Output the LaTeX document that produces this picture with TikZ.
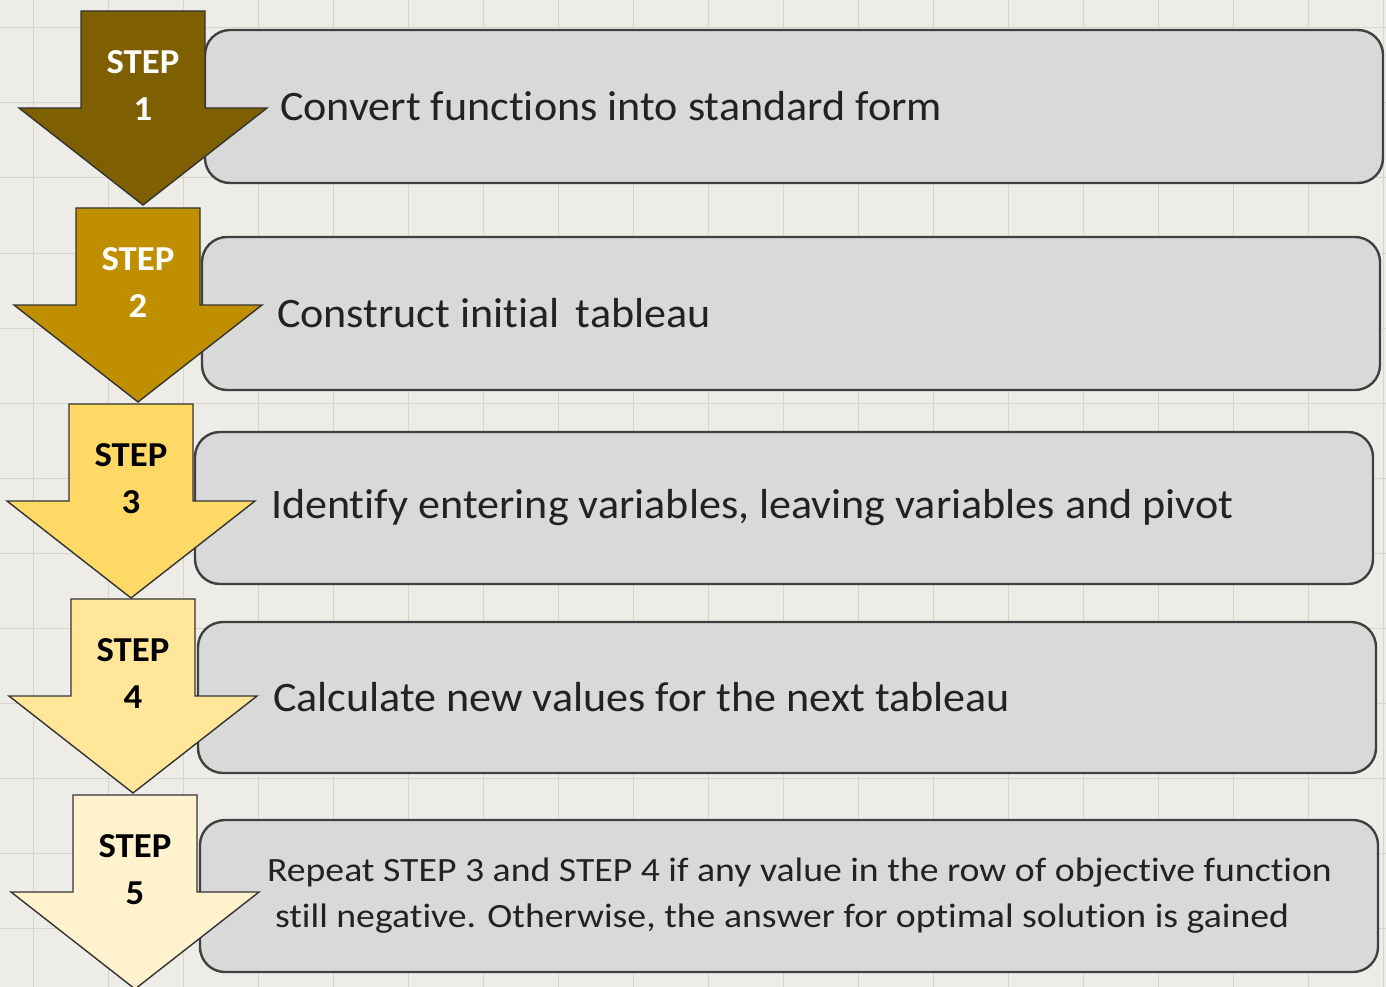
\documentclass[tikz,border=0pt]{standalone}
\usepackage{fontspec}
\setmainfont{Carlito}[Ligatures=NoCommon, FakeStretch=1.05]
\newfontfamily\widefont{Carlito}[Ligatures=NoCommon, FakeStretch=1.11]
\usepackage{tikz}
\usetikzlibrary{positioning}

\definecolor{paper}{HTML}{EDECE7}
\definecolor{paperline}{HTML}{D6D5CE}
\definecolor{goldA}{HTML}{7F6000}
\definecolor{goldB}{HTML}{BF8F00}
\definecolor{goldC}{HTML}{FFD966}
\definecolor{goldD}{HTML}{FFE699}
\definecolor{goldE}{HTML}{FFF2CC}
\definecolor{boxfill}{HTML}{D9D9D9}
\definecolor{boxline}{HTML}{404040}
\definecolor{ink}{HTML}{222222}

\begin{document}
\begin{tikzpicture}[x=1pt,y=-1pt,
    gridline/.style={draw=paperline, line width=1pt},
    stepbox/.style={draw=boxline, fill=boxfill, line width=2.4pt, rounded corners=25pt,
      minimum width=1178pt, minimum height=152pt, inner sep=0pt},
    steparrow/.style={draw=boxline!80!black, line width=1.4pt, line join=miter},
    steplabel/.style={align=center, inner sep=0pt, font=\fontsize{35}{47}\selectfont\bfseries},
    steptext/.style={align=left, inner sep=0pt, text=ink, font=\fontsize{42}{50}\selectfont}]
    \useasboundingbox (0,0) rectangle (1386,987);
    \fill[paper] (0,0) rectangle (1386,987);
    \foreach \gx in {33,108,...,1383} \draw[gridline] (\gx,0) -- (\gx,987);
    \foreach \gy in {28,103,...,978} \draw[gridline] (0,\gy) -- (1386,\gy);

    % step 5
    \node[stepbox] (box5) at (789,896) {};
    \node[steptext, font=\widefont\fontsize{34}{46}\selectfont, right=76pt of box5.west] (txt5)
      {\hspace*{-8pt}Repeat STEP 3 and STEP 4 if any value in the row of objective function\\
       still negative. Otherwise, the answer for optimal solution is gained};
    \filldraw[steparrow, fill=goldE] (73,795) -- (197,795) -- (197,892) -- (259,892) -- (135,989) -- (11,892) -- (73,892) -- cycle;
    \node[steplabel, text=black] (lab5) at (135,870) {STEP\\5};

    % step 4
    \node[stepbox, minimum height=151pt] (box4) at (787,697.5) {};
    \node[steptext, right=76pt of box4.west] (txt4) {Calculate new values for the next tableau};
    \filldraw[steparrow, fill=goldD] (71,599) -- (195,599) -- (195,696) -- (257,696) -- (133,793) -- (9,696) -- (71,696) -- cycle;
    \node[steplabel, text=black] (lab4) at (133,674) {STEP\\4};

    % step 3
    \node[stepbox] (box3) at (784,508) {};
    \node[steptext, right=77pt of box3.west] (txt3) {Identify entering variables, leaving variables and pivot};
    \filldraw[steparrow, fill=goldC] (69,404) -- (193,404) -- (193,501) -- (255,501) -- (131,598) -- (7,501) -- (69,501) -- cycle;
    \node[steplabel, text=black] (lab3) at (131,479) {STEP\\3};

    % step 2
    \node[stepbox, minimum height=153pt] (box2) at (791,313.5) {};
    \node[steptext, right=76pt of box2.west] (txt2) {Construct initial\hspace{16pt}tableau};
    \filldraw[steparrow, fill=goldB] (76,208) -- (200,208) -- (200,305) -- (262,305) -- (138,402) -- (14,305) -- (76,305) -- cycle;
    \node[steplabel, text=white] (lab2) at (138,283) {STEP\\2};

    % step 1
    \node[stepbox, minimum height=153pt] (box1) at (794,106.5) {};
    \node[steptext, right=76pt of box1.west] (txt1) {Convert functions into standard form};
    \filldraw[steparrow, fill=goldA] (81,11) -- (205,11) -- (205,108) -- (267,108) -- (143,205) -- (19,108) -- (81,108) -- cycle;
    \node[steplabel, text=white] (lab1) at (143,86) {STEP\\1};
  \end{tikzpicture}
\end{document}
